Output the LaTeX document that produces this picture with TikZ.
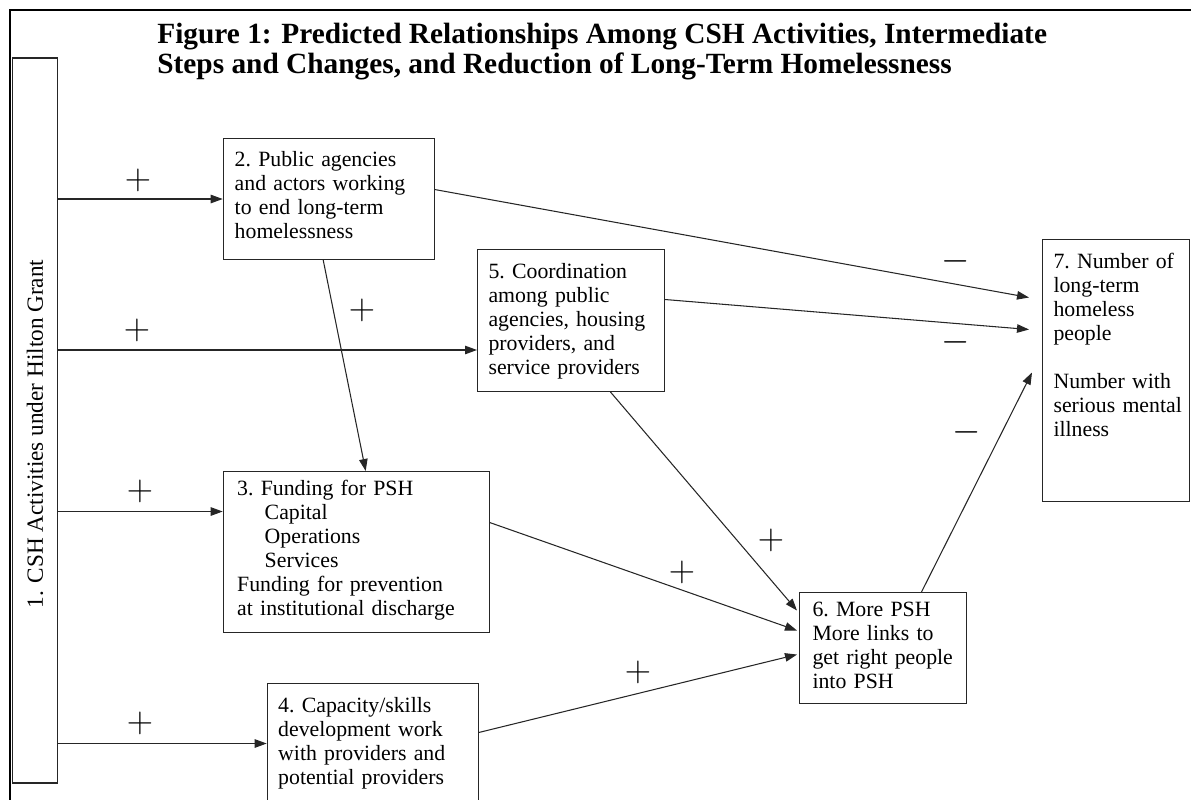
\documentclass[tikz,border=0pt]{standalone}
\usepackage{fontspec}
\setmainfont{Liberation Serif}
\usetikzlibrary{arrows.meta, positioning}

\newcommand{\boxfont}{\fontsize{12.4}{13.66}\selectfont\frenchspacing\hyphenpenalty=10000}

\begin{document}
\begin{tikzpicture}[x=0.02cm, y=-0.02cm,
    stage/.style={draw=black!85, line width=0.6pt, anchor=north west, align=left, font=\boxfont, inner ysep=0pt},
    arr/.style={-{Triangle[length=0.24cm, width=0.17cm]}, draw=black!85, line width=0.6pt},
    sign/.style={font=\fontsize{20}{20}\selectfont, inner sep=0pt}]
    \clip (0,0) rectangle (1191,800);
    \draw[line width=1.1pt] (10.3,900) -- (10.3,10) -- (1300,10);

    % nodes %
      \node[anchor=base west, align=left, inner sep=0pt, font=\fontsize{16.7}{17.6}\selectfont\bfseries] (title) at (157,74)
        {Figure 1: Predicted Relationships Among CSH Activities, Intermediate\\
         Steps and Changes, and Reduction of Long-Term Homelessness};
      \node[draw=black!85, line width=0.8pt, rotate=90, minimum width=14.5cm, minimum height=0.896cm, inner sep=0pt,
        font=\fontsize{13.2}{14}\selectfont] (csh) at (35,420.5) {1. CSH Activities under Hilton Grant\hspace*{0.54cm}};
      \node[stage, text width=3.76cm, inner xsep=0.23cm, text height=0.56cm, text depth=1.86cm] (act) at (222.7,138)
        {2. Public agencies\\ and actors working\\ to end long-term\\ homelessness};
      \node[stage, text width=3.3cm, inner xsep=0.22cm, text height=0.58cm, text depth=2.26cm] (coord) at (477,249)
        {5. Coordination\\ among public\\ agencies, housing\\ providers, and\\ service providers};
      \node[stage, text width=2.5cm, inner xsep=0.22cm, text height=0.58cm, text depth=4.66cm] (num) at (1042,239)
        {7. Number of\\ long-term\\ homeless\\ people\\[0.48cm] Number with\\ \mbox{serious mental}\\ illness};
      \node[stage, text width=4.76cm, inner xsep=0.28cm, text height=0.48cm, text depth=2.74cm] (fund) at (222.7,471)
        {3. Funding for PSH\\ \hspace*{0.55cm}Capital\\ \hspace*{0.55cm}Operations\\ \hspace*{0.55cm}Services\\
         Funding for prevention\\ at institutional discharge};
      \node[stage, text width=2.82cm, inner xsep=0.26cm, text height=0.48cm, text depth=1.74cm] (more) at (799,592)
        {6. More PSH\\ More links to\\ get right people\\ into PSH};
      \node[stage, text width=3.78cm, inner xsep=0.22cm, text height=0.58cm, text depth=1.82cm] (cap) at (266.7,683)
        {4. Capacity/skills\\ development work\\ with providers and\\ potential providers};

      % signs %
      \node[sign] (p12) at (138,180) {$+$};
      \node[sign] (p15) at (137,330) {$+$};
      \node[sign] (p13) at (140,491) {$+$};
      \node[sign] (p14) at (140,723) {$+$};
      \node[sign] (p23) at (362,310) {$+$};
      \node[sign] (p56) at (771,540) {$+$};
      \node[sign] (p36) at (682,572) {$+$};
      \node[sign] (p46) at (638,672) {$+$};
      \node[sign] (m27) at (956,261) {$-$};
      \node[sign] (m57) at (956,342) {$-$};
      \node[sign] (m67) at (967,432) {$-$};

      % edges %
      \draw[arr] (csh.south |- act.west) -- (act.west);
      \draw[arr] ([yshift=-0.59cm]coord.west -| csh.south) -- ([yshift=-0.59cm]coord.west);
      \draw[arr] ([yshift=0.81cm]fund.west -| csh.south) -- ([yshift=0.81cm]fund.west);
      \draw[arr] (csh.south |- cap.west) -- (cap.west);
      \draw[arr] ([yshift=0.19cm]act.east) -- ([xshift=-0.26cm, yshift=1.46cm]num.west);
      \draw[arr] ([yshift=0.42cm]coord.east) -- ([xshift=-0.26cm, yshift=0.82cm]num.west);
      \draw[arr] ([xshift=0.77cm]more.north) -- ([xshift=-0.2cm, yshift=-0.04cm]num.west);
      \draw[arr] ([xshift=-0.11cm]act.south) -- ([xshift=0.19cm]fund.north);
      \draw[arr] ([xshift=0.79cm]coord.south) -- ([xshift=-0.04cm, yshift=0.75cm]more.west);
      \draw[arr] ([yshift=0.59cm]fund.east) -- ([xshift=-0.04cm, yshift=0.35cm]more.west);
      \draw[arr] ([yshift=0.22cm]cap.east) -- ([xshift=-0.04cm, yshift=-0.13cm]more.west);
    \end{tikzpicture}
\end{document}
